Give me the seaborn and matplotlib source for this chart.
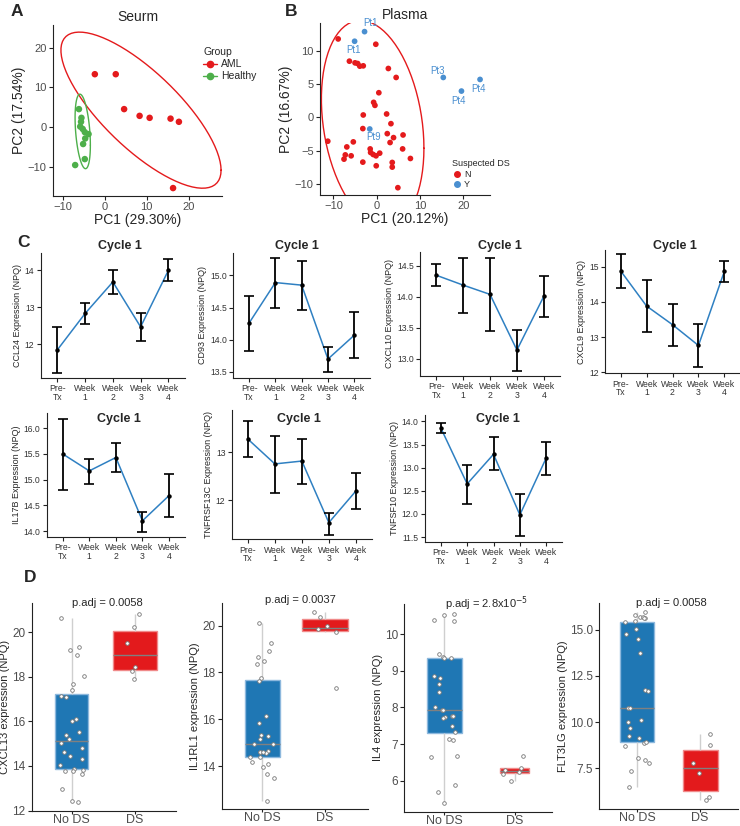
import numpy as np
import pandas as pd
import seaborn as sns
import matplotlib.pyplot as plt
from matplotlib.lines import Line2D
from matplotlib.ticker import FormatStrFormatter

sns.set_theme(style='ticks')
plt.rcParams['font.family'] = ['Liberation Sans', 'DejaVu Sans']

# ---- A: serum PCA ----
a_pc1_aml = [-2.4, 2.6, 4.6, 8.3, 10.7, 15.7, 17.7, 16.3]
a_pc2_aml = [13.3, 13.3, 4.5, 2.8, 2.3, 2.1, 1.3, -15.4]
a_pc1_healthy = [-6.2, -5.6, -5.7, -5.9, -4.8, -3.9, -4.7, -5.2, -4.8, -7.1, -5.3]
a_pc2_healthy = [4.5, 2.3, 1.3, 0.1, -1.3, -1.8, -2.9, -4.3, -8.1, -9.6, -0.5]

# ---- B: plasma PCA ----
b_pc1_n = [-8.9, -0.2, -6.3, -5.0, -4.4, -3.9, -3.1, 2.7, 4.5, 0.5, -0.7, -0.4, -3.1,
           2.3, -3.2, 3.3, 2.45, 6.1, 3.9, 3.1, -11.3, -5.4, -6.9, -1.5, 6.0, -1.4,
           -0.8, 0.7, -0.15, -7.25, -5.9, -7.55, 7.8, -3.2, 3.6, 3.6, -0.1, 4.9]
b_pc2_n = [11.8, 11.0, 8.45, 8.2, 8.1, 7.7, 7.75, 7.35, 6.0, 3.7, 2.25, 1.8, 0.35,
           0.5, -1.7, -0.96, -2.46, -2.66, -3.06, -3.8, -3.6, -3.7, -4.46, -4.76, -4.76,
           -5.3, -5.6, -5.4, -5.8, -5.66, -5.8, -6.3, -6.2, -6.75, -6.8, -7.5, -7.3, -10.6]
b_pc1_y = [-2.8, -5.1, 15.4, 19.6, 23.9, -1.6]
b_pc2_y = [12.9, 11.45, 6.0, 3.95, 5.7, -1.76]
b_names_y = ['Pt1', 'Pt1', 'Pt3', 'Pt4', 'Pt4', 'Pt9']
b_label_offsets = [(4, 6), (-1, -6), (-4, 5), (-2, -7), (-1, -7), (3, -6)]  # points

# ---- C: cycle 1 time course ----
timepoints = ['Pre-\nTx', 'Week\n1', 'Week\n2', 'Week\n3', 'Week\n4']
c_genes = ['CCL24', 'CD93', 'CXCL10', 'CXCL9', 'IL17B', 'TNFRSF13C', 'TNFSF10']
c_mean = [
    [11.85, 12.83, 13.68, 12.47, 13.99],
    [14.26, 14.89, 14.85, 13.70, 14.07],
    [14.35, 14.19, 14.04, 13.14, 14.01],
    [14.88, 13.88, 13.35, 12.76, 14.87],
    [15.50, 15.17, 15.43, 14.20, 14.69],
    [13.28, 12.76, 12.82, 11.53, 12.19],
    [13.86, 12.65, 13.29, 11.98, 13.21],
]
c_low = [
    [11.24, 12.55, 13.36, 12.09, 13.70],
    [13.83, 14.49, 14.47, 13.50, 13.72],
    [14.17, 13.74, 13.44, 12.80, 13.68],
    [14.39, 13.15, 12.75, 12.14, 14.57],
    [14.80, 14.92, 15.15, 13.98, 14.28],
    [12.91, 12.16, 12.34, 11.28, 11.81],
    [13.76, 12.22, 12.95, 11.52, 12.85],
]
c_high = [
    [12.46, 13.11, 13.99, 12.83, 14.29],
    [14.68, 15.27, 15.22, 13.89, 14.43],
    [14.53, 14.63, 14.63, 13.47, 14.33],
    [15.37, 14.62, 13.94, 13.36, 15.16],
    [16.18, 15.40, 15.72, 14.38, 15.11],
    [13.66, 13.35, 13.29, 11.74, 12.58],
    [13.96, 13.05, 13.66, 12.43, 13.56],
]

# ---- D: DS vs no DS ----
groups = ['No DS', 'DS']
d_genes = ['CXCL13', 'IL1RL1', 'IL4', 'FLT3LG']
d_titles = ['p.adj = 0.0058', 'p.adj = 0.0037', 'p.adj = 2.8x10$^{-5}$', 'p.adj = 0.0058']
d_no_ds = [
    [20.63, 19.32, 19.2, 19.0, 18.02, 17.68, 17.43, 17.14, 17.11, 16.04, 16.1, 15.52, 15.2,
     15.03, 15.39, 14.81, 14.62, 14.44, 14.32, 14.03, 13.88, 13.84, 13.76, 13.76, 13.64,
     12.97, 12.45, 12.39],
    [20.13, 19.24, 18.92, 18.64, 18.5, 18.36, 17.78, 17.64, 16.15, 15.82, 15.33, 15.3, 15.16,
     14.95, 14.93, 14.65, 14.6, 14.6, 14.57, 14.6, 14.4, 14.4, 14.17, 14.09, 13.95, 13.65,
     13.48, 12.49],
    [10.56, 10.51, 10.35, 10.38, 9.47, 9.38, 9.34, 9.34, 8.85, 8.8, 8.64, 8.41, 8.0, 7.93,
     7.93, 7.77, 7.76, 7.73, 7.7, 7.5, 7.34, 7.15, 7.11, 6.68, 6.64, 5.89, 5.7, 5.4],
    [16.0, 15.82, 15.69, 15.69, 15.63, 15.63, 15.42, 15.49, 15.05, 14.76, 14.49, 13.73, 11.74,
     11.7, 10.74, 10.74, 10.11, 9.98, 9.69, 9.11, 9.24, 8.84, 8.9, 8.7, 8.03, 7.93, 7.75,
     7.36, 6.45],
]
d_ds = [
    [20.82, 20.22, 19.5, 18.43, 18.28, 17.9],
    [20.6, 20.36, 19.99, 19.85, 19.72, 17.33],
    [6.67, 6.35, 6.3, 6.24, 6.19, 6.01],
    [9.35, 8.75, 7.75, 7.21, 5.76, 5.91],
]

RED = '#E41A1C'
GREEN = '#4DAF4A'
BLUE_PT = '#4A8FD0'
LINE_BLUE = '#2F80C2'
BOX_BLUE = '#1F77B4'
BOX_RED = '#E31A1C'
TICK_GRAY = '#4D4D4D'

fig = plt.figure(figsize=(7.4, 8.26), dpi=100)


def px_axes(x0, y0, x1, y1):
    return fig.add_axes([x0 / 740, 1 - y1 / 826, (x1 - x0) / 740, (y1 - y0) / 826])


def fig_text(x, y, s, **kw):
    fig.text(x / 740, 1 - y / 826, s, ha='center', va='center', **kw)


def cov_trob(xy, nu=5, maxit=25, tol=0.01):
    # robust t covariance, as used by ggplot's stat_ellipse
    n, p = xy.shape
    wt = np.ones(n)
    loc = xy.mean(axis=0)
    w = np.ones(n)
    X = xy - loc
    for _ in range(maxit):
        w0 = w
        X = xy - loc
        _, d, vt = np.linalg.svd(np.sqrt(w / w.sum())[:, None] * X, full_matrices=False)
        wX = X @ vt.T @ np.diag(1 / d)
        Q = (wX ** 2).sum(axis=1)
        w = wt * (nu + p) / (nu + Q)
        loc = (w[:, None] * xy).sum(axis=0) / w.sum()
        if np.all(np.abs(w - w0) < tol):
            break
    sw = np.sqrt(w)[:, None] * X
    return loc, sw.T @ sw / wt.sum()


def ellipse(x, y, level=0.95, robust=True, segments=80):
    xy = np.column_stack([x, y])
    if robust:
        center, shape = cov_trob(xy)
    else:
        center, shape = xy.mean(axis=0), np.cov(xy.T)
    dfd = len(xy) - 1
    fq = dfd / 2 * ((1 - level) ** (-2 / dfd) - 1)
    radius = np.sqrt(2 * fq)
    t = np.linspace(0, 2 * np.pi, segments)
    circle = np.column_stack([np.cos(t), np.sin(t)])
    pts = center + radius * circle @ np.linalg.cholesky(shape).T
    return pts[:, 0], pts[:, 1]


def style_axes(ax, labelsize, color):
    sns.despine(ax=ax)
    for sp in ['left', 'bottom']:
        ax.spines[sp].set_linewidth(0.8)
        ax.spines[sp].set_color('#222222')
    ax.tick_params(length=3, width=0.8, labelsize=labelsize, labelcolor=color, pad=1.5,
                   color='#222222')


# ---------------- A ----------------
axA = px_axes(53, 25, 222, 196)
dfA = pd.DataFrame({'PC1': a_pc1_aml + a_pc1_healthy, 'PC2': a_pc2_aml + a_pc2_healthy,
                    'Group': ['AML'] * len(a_pc1_aml) + ['Healthy'] * len(a_pc1_healthy)})
sns.scatterplot(data=dfA, x='PC1', y='PC2', hue='Group', palette={'AML': RED, 'Healthy': GREEN},
                s=22, linewidth=0, legend=False, ax=axA)
ex, ey = ellipse(a_pc1_aml, a_pc2_aml)
axA.plot(ex, ey, color=RED, lw=1)
ex, ey = ellipse(a_pc1_healthy, a_pc2_healthy)
axA.plot(ex, ey, color=GREEN, lw=1)
axA.set_xlim(-12.4, 28)
axA.set_ylim(-17.4, 25.7)
axA.set_xticks([-10, 0, 10, 20])
axA.set_yticks([-10, 0, 10, 20])
style_axes(axA, 8, TICK_GRAY)
axA.set_xlabel('PC1 (29.30%)', fontsize=10, labelpad=0.5)
axA.set_ylabel('PC2 (17.54%)', fontsize=10, labelpad=1)
axA.set_title('Seurm', fontsize=10, pad=3)
handlesA = [Line2D([0], [0], color=RED, marker='o', ms=4.5, lw=1),
            Line2D([0], [0], color=GREEN, marker='o', ms=4.5, lw=1)]
fig.legend(handlesA, ['AML', 'Healthy'], title='Group', loc='upper left',
           bbox_to_anchor=(196 / 740, 1 - 40 / 826), frameon=False, fontsize=7.5,
           title_fontsize=7.5, handlelength=1.3, handletextpad=0.4, labelspacing=0.2,
           alignment='left', borderpad=0.2)

# ---------------- B ----------------
axB = px_axes(320, 23, 490, 195)
dfB = pd.DataFrame({'PC1': b_pc1_n + b_pc1_y, 'PC2': b_pc2_n + b_pc2_y,
                    'DS': ['N'] * len(b_pc1_n) + ['Y'] * len(b_pc1_y)})
sns.scatterplot(data=dfB, x='PC1', y='PC2', hue='DS', palette={'N': RED, 'Y': BLUE_PT},
                s=17, linewidth=0, legend=False, ax=axB)
ex, ey = ellipse(b_pc1_n, b_pc2_n, robust=False)
axB.plot(ex, ey, color=RED, lw=1)
for px, py, name, off in zip(b_pc1_y, b_pc2_y, b_names_y, b_label_offsets):
    axB.annotate(name, (px, py), xytext=off, textcoords='offset points', color=BLUE_PT,
                 fontsize=7, ha='center', va='center')
axB.set_xlim(-13.1, 26.2)
axB.set_ylim(-11.7, 14.2)
axB.set_xticks([-10, 0, 10, 20])
axB.set_yticks([-10, -5, 0, 5, 10])
style_axes(axB, 8, TICK_GRAY)
axB.set_xlabel('PC1 (20.12%)', fontsize=10, labelpad=0.5)
axB.set_ylabel('PC2 (16.67%)', fontsize=10, labelpad=1)
axB.set_title('Plasma', fontsize=10, pad=3)
handlesB = [Line2D([0], [0], color=RED, marker='o', ms=4, lw=0),
            Line2D([0], [0], color=BLUE_PT, marker='o', ms=4, lw=0)]
fig.legend(handlesB, ['N', 'Y'], title='Suspected DS', loc='upper left',
           bbox_to_anchor=(446 / 740, 1 - 153 / 826), frameon=False, fontsize=6.5,
           title_fontsize=6.5, handlelength=1.0, handletextpad=0.3, labelspacing=0.15,
           alignment='left', borderpad=0.2)

# ---------------- C ----------------
c_boxes_px = [(40.7, 253, 185, 377.7), (233.3, 253, 370, 377.7), (420, 251.7, 560, 376),
              (605, 250, 740, 373.3), (46.7, 413.3, 185, 536.7), (231.7, 410, 372, 539.3),
              (425, 415, 562, 541.7)]
c_ylims = [(11.1, 14.46), (13.41, 15.35), (12.72, 14.73), (11.97, 15.47), (13.89, 16.29),
           (11.18, 13.89), (11.40, 14.14)]
c_yticks = [[12, 13, 14], [13.5, 14.0, 14.5, 15.0], [13.0, 13.5, 14.0, 14.5], [12, 13, 14, 15],
            [14.0, 14.5, 15.0, 15.5, 16.0], [12, 13], [11.5, 12.0, 12.5, 13.0, 13.5, 14.0]]
c_fmt = ['%d', '%.1f', '%.1f', '%d', '%.1f', '%d', '%.1f']
c_title_px = [(120, 246), (297, 246), (500, 246), (675, 246), (119, 419), (299, 419), (498, 419)]

xpos = np.arange(len(timepoints))
for i, gene in enumerate(c_genes):
    ax = px_axes(*c_boxes_px[i])
    mean = np.array(c_mean[i])
    lo = np.array(c_low[i])
    hi = np.array(c_high[i])
    sns.lineplot(x=xpos, y=mean, color=LINE_BLUE, lw=1.1, ax=ax, zorder=2)
    ax.errorbar(xpos, mean, yerr=[mean - lo, hi - mean], fmt='o', color='black', ms=2.2,
                capsize=3.3, capthick=1.2, elinewidth=1.3, zorder=3)
    ax.set_xlim(-0.6, 4.6)
    ax.set_ylim(*c_ylims[i])
    ax.set_yticks(c_yticks[i])
    ax.yaxis.set_major_formatter(FormatStrFormatter(c_fmt[i]))
    ax.set_xticks(xpos)
    ax.set_xticklabels(timepoints, linespacing=0.95)
    style_axes(ax, 6.2, '#333333')
    ax.set_ylabel(f'{gene} Expression (NPQ)', fontsize=6.5, labelpad=2)
    ax.set_xlabel('')
    tx, ty = c_title_px[i]
    fig_text(tx, ty, 'Cycle 1', fontsize=9, fontweight='bold')

# ---------------- D ----------------
d_boxes_px = [(31.7, 603.3, 176, 811), (221.7, 602.7, 368, 809.3),
              (404.3, 604, 552, 811.7), (599.3, 602.7, 738, 809.3)]
d_xlims = [(-0.63, 1.65), (-0.65, 1.69), (-0.57, 1.53), (-0.60, 1.60)]
d_ylims = [(11.98, 21.3), (12.15, 20.98), (5.16, 10.82), (5.26, 16.48)]
d_yticks = [[12, 14, 16, 18, 20], [14, 16, 18, 20], [6, 7, 8, 9, 10], [7.5, 10.0, 12.5, 15.0]]
d_fmt = ['%d', '%d', '%d', '%.1f']
d_widths = [(0.53, 0.70), (0.55, 0.74), (0.49, 0.42), (0.53, 0.56)]
d_title_px = [(107.5, 602.7), (300, 600), (486.7, 604), (671.2, 602.7)]
box_fill = {'No DS': BOX_BLUE, 'DS': BOX_RED}
box_edge = {'No DS': '#8DB8DD', 'DS': '#F08A8A'}

np.random.seed(7)
for i, gene in enumerate(d_genes):
    ax = px_axes(*d_boxes_px[i])
    df = pd.DataFrame({'group': ['No DS'] * len(d_no_ds[i]) + ['DS'] * len(d_ds[i]),
                       'value': d_no_ds[i] + d_ds[i]})
    for g, w in zip(groups, d_widths[i]):
        sub = df[df['group'] == g]
        sns.boxplot(data=sub, x='group', y='value', order=groups, width=w,
                    color=box_fill[g], linecolor=box_edge[g], linewidth=1.0,
                    showfliers=False, showcaps=False, saturation=1,
                    medianprops={'color': '#808080', 'linewidth': 1.0},
                    whiskerprops={'color': '#CFCFCF', 'linewidth': 1.0}, ax=ax)
    sns.stripplot(data=df, x='group', y='value', order=groups, jitter=0.2, size=2.6,
                  color='white', edgecolor='#777777', linewidth=0.6, ax=ax, zorder=4)
    ax.set_xlim(*d_xlims[i])
    ax.set_ylim(*d_ylims[i])
    ax.set_yticks(d_yticks[i])
    ax.yaxis.set_major_formatter(FormatStrFormatter(d_fmt[i]))
    style_axes(ax, 8.5, TICK_GRAY)
    ax.tick_params(axis='x', labelsize=9, length=2, pad=0.3)
    ax.set_xlabel('')
    ax.set_ylabel(f'{gene} expression (NPQ)', fontsize=8, labelpad=1.5)
    tx, ty = d_title_px[i]
    fig_text(tx, ty, d_titles[i], fontsize=8)

# panel letters
for letter, (lx, ly) in zip('ABCD', [(16.5, 11), (291.5, 11), (24, 242.5), (30, 577)]):
    fig_text(lx, ly, letter, fontsize=12.5, fontweight='bold')

fig.savefig('out.png', dpi=100)
